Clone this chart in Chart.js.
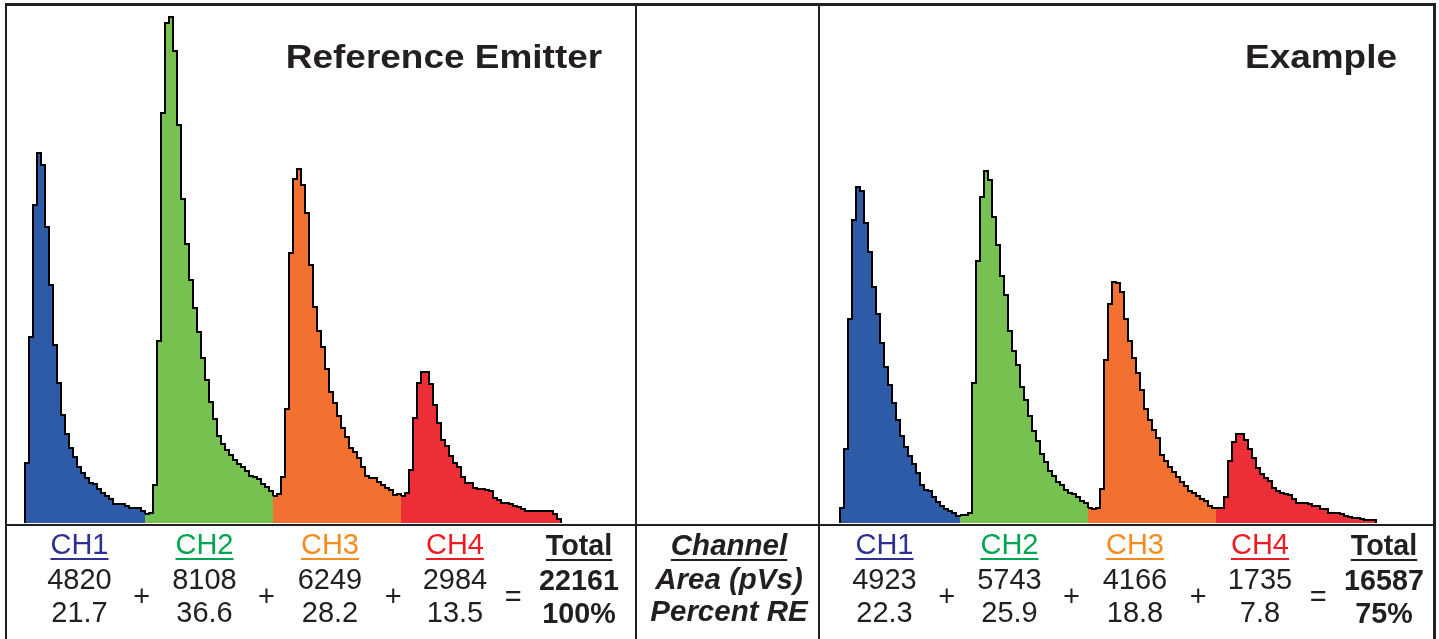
<!DOCTYPE html>
<html><head><meta charset="utf-8">
<script src="https://cdn.jsdelivr.net/npm/chart.js@4"></script>
<style>
html,body{margin:0;padding:0;background:#fff;}
body{width:1439px;height:639px;position:relative;overflow:hidden;font-family:"Liberation Sans",Arial,Helvetica,sans-serif;color:#231f20;}
.ln{position:absolute;background:#231f20;z-index:5;}
canvas{position:absolute;}
.t{position:absolute;white-space:nowrap;text-align:center;width:600px;line-height:1;z-index:6;}
.u{text-decoration:underline;text-decoration-thickness:2px;text-underline-offset:4px;}
</style></head><body>
<div class="ln" style="left:5px;top:3px;width:1431px;height:2.5px"></div>
<div class="ln" style="left:5px;top:3px;width:2px;height:640px"></div>
<div class="ln" style="left:635px;top:3px;width:2px;height:640px"></div>
<div class="ln" style="left:818px;top:3px;width:2px;height:640px"></div>
<div class="ln" style="left:1433px;top:3px;width:2.5px;height:640px"></div>
<div class="ln" style="left:5px;top:523.5px;width:1431px;height:2.5px"></div>
<canvas id="c1" width="631" height="522" style="left:5px;top:1px;width:631px;height:522px"></canvas>
<canvas id="c2" width="616" height="522" style="left:818px;top:1px;width:616px;height:522px"></canvas>
<script>
// ---- data ----
const channels = ['CH1', 'CH2', 'CH3', 'CH4'];
const binStart = [5, 35, 67, 99];            // first time bin of each channel window
// Reference Emitter – amplitude per time bin
const refCh1 = [60,186,318,370,358,296,238,178,140,108,89,75,66,56,50,45,40,39,34,30,27,24,19,19,19,17,15,15,15,12];
const refCh2 = [9,10,38,182,410,500,506,472,398,324,279,243,215,191,165,143,121,104,87,79,73,68,63,59,56,52,47,46,44,39,36,32];
const refCh3 = [27,29,46,114,270,344,354,338,310,258,216,192,176,154,131,120,107,95,86,75,71,65,56,47,45,45,41,38,35,33,28,29];
const refCh4 = [27,30,53,105,140,151,151,139,118,100,83,77,67,60,56,46,40,40,35,34,34,33,32,25,23,20,20,19,17,16,14,12,12,12,12,12,12,12,9,4];
// Example – amplitude per time bin
const exCh1 = [15,74,204,303,336,332,300,271,236,209,180,156,138,120,103,87,76,67,59,50,38,33,32,26,21,17,14,12,10,7];
const exCh2 = [8,8,10,140,262,326,352,343,306,278,247,228,192,172,158,136,123,107,92,82,69,61,52,47,41,38,33,30,29,26,22,20];
const exCh3 = [15,14,15,34,163,219,241,240,231,204,182,165,150,133,114,103,93,85,68,62,56,51,46,41,37,32,30,27,24,22,17,15];
const exCh4 = [15,15,26,62,81,89,89,83,74,65,55,49,45,42,35,32,30,29,28,24,20,20,20,19,17,17,14,14,10,10,10,9,7,6,5,5,4,3,3,3];
// table
const panelTitles = ['Reference Emitter', 'Example'];
const rowLabels = ['Channel', 'Area (pVs)', 'Percent RE'];
const refArea = ['4820', '8108', '6249', '2984'];
const refPct = ['21.7', '36.6', '28.2', '13.5'];
const refTotal = ['22161', '100%'];
const exArea = ['4923', '5743', '4166', '1735'];
const exPct = ['22.3', '25.9', '18.8', '7.8'];
const exTotal = ['16587', '75%'];

// ---- styles ----
const fillColors = ['#2d5ba8', '#77c150', '#f27131', '#ec2e37'];
const labelColors = ['#2e3192', '#00a651', '#f68b1f', '#ed1c24'];

function makeDatasets(chs) {
  return chs.map((vals, k) => {
    const s = binStart[k];
    const pts = [];
    if (k === 0) pts.push({x: s, y: 0});
    vals.forEach((v, i) => pts.push({x: s + i, y: v}));
    const nxt = k < chs.length - 1 ? chs[k + 1][0] : 0;
    pts.push({x: s + vals.length, y: nxt});
    return {data: pts, stepped: true, fill: 'origin', backgroundColor: fillColors[k],
      borderColor: '#000', borderWidth: 2, pointRadius: 0, tension: 0};
  });
}
function makeChart(id, chs, xmin, xmax) {
  new Chart(document.getElementById(id), {
    type: 'line',
    data: {datasets: makeDatasets(chs)},
    options: {
      responsive: false, animation: false, devicePixelRatio: 1,
      layout: {padding: 0},
      plugins: {legend: {display: false}, tooltip: {enabled: false}, title: {display: false}},
      scales: {
        x: {type: 'linear', min: xmin, max: xmax, display: false},
        y: {min: 0, max: 522, display: false}
      }
    }
  });
}
makeChart('c1', [refCh1, refCh2, refCh3, refCh4], 0, 157.75);
makeChart('c2', [exCh1, exCh2, exCh3, exCh4], -0.5, 153.5);

// ---- text ----
function txt(str, cx, baseline, fs, opts) {
  opts = opts || {};
  const d = document.createElement('div');
  d.className = 't' + (opts.u ? ' u' : '');
  d.textContent = str;
  d.style.fontSize = fs + 'px';
  d.style.left = (cx - 300) + 'px';
  d.style.top = (baseline - 0.8465 * fs) + 'px';
  if (opts.bold) d.style.fontWeight = 'bold';
  if (opts.italic) d.style.fontStyle = 'italic';
  if (opts.color) d.style.color = opts.color;
  if (opts.sx) d.style.transform = 'scaleX(' + opts.sx + ')';
  document.body.appendChild(d);
}
txt(panelTitles[0], 443.8, 68.3, 33, {bold: true, sx: 1.12});
txt(panelTitles[1], 1320.5, 68.3, 33, {bold: true, sx: 1.12});

function table(off, area, pct, total) {
  const cx = [79.5, 204.5, 330, 455];
  channels.forEach((c, i) => {
    txt(c, cx[i] + off, 555, 29, {u: true, color: labelColors[i]});
    txt(area[i], cx[i] + off, 590, 29);
    txt(pct[i], cx[i] + off, 623, 29);
  });
  [141.7, 266.5, 393.3].forEach(x => txt('+', x + off, 607, 29));
  txt('=', 513.3 + off, 607, 29);
  txt('Total', 579 + off, 555, 28.7, {bold: true, u: true});
  txt(total[0], 579 + off, 590, 28.7, {bold: true});
  txt(total[1], 579 + off, 623, 28.7, {bold: true});
}
table(0, refArea, refPct, refTotal);
table(805, exArea, exPct, exTotal);
txt(rowLabels[0], 729, 554.5, 29.5, {bold: true, italic: true, u: true});
txt(rowLabels[1], 729, 589, 29.5, {bold: true, italic: true});
txt(rowLabels[2], 729, 621, 29.5, {bold: true, italic: true});
</script>
</body></html>
